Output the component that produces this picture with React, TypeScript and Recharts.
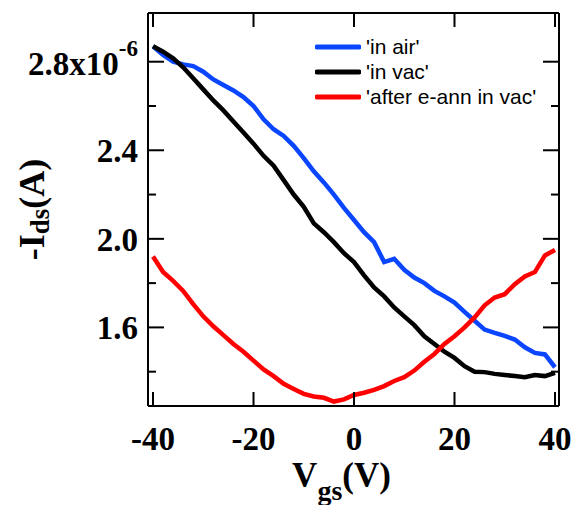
import React from "react";
import { LineChart, Line, XAxis, YAxis, Legend } from "recharts";

const vgs = [
  -40, -38, -36, -34, -32, -30, -28, -26, -24, -22, -20, -18, -16, -14, -12, -10, -8, -6, -4, -2,
  0, 2, 4, 6, 8, 10, 12, 14, 16, 18, 20, 22, 24, 26, 28, 30, 32, 34, 36, 38, 40,
];

// -Ids in units of 1e-6 A
const inAir = [
  2.87, 2.83, 2.8, 2.788, 2.78, 2.755, 2.72, 2.695, 2.67, 2.64, 2.6, 2.54, 2.495, 2.465, 2.42,
  2.365, 2.305, 2.255, 2.2, 2.14, 2.085, 2.03, 1.985, 1.895, 1.91, 1.86, 1.825, 1.8, 1.765, 1.74,
  1.712, 1.67, 1.63, 1.59, 1.575, 1.562, 1.545, 1.51, 1.485, 1.478, 1.42,
];

const inVac = [
  2.87, 2.845, 2.815, 2.775, 2.725, 2.675, 2.625, 2.58, 2.53, 2.48, 2.43, 2.375, 2.33, 2.265, 2.2,
  2.145, 2.07, 2.03, 1.985, 1.935, 1.895, 1.835, 1.78, 1.74, 1.69, 1.65, 1.61, 1.56, 1.525, 1.49,
  1.462, 1.425, 1.4, 1.398, 1.39, 1.385, 1.38, 1.375, 1.385, 1.38, 1.395,
];

const afterAnn = [
  1.92, 1.85, 1.81, 1.765, 1.705, 1.65, 1.605, 1.565, 1.525, 1.49, 1.45, 1.41, 1.38, 1.345, 1.322,
  1.3, 1.288, 1.282, 1.265, 1.275, 1.295, 1.305, 1.318, 1.335, 1.358, 1.375, 1.405, 1.445, 1.48,
  1.525, 1.56, 1.6, 1.645, 1.7, 1.735, 1.75, 1.795, 1.83, 1.85, 1.925, 1.95,
];

const xTicks = [-40, -20, 0, 20, 40];
const yTicks = [1.4, 1.6, 1.8, 2.0, 2.2, 2.4, 2.6, 2.8];

const series = [
  { key: "air", name: "'in air'", color: "#0a46ff" },
  { key: "vac", name: "'in vac'", color: "#000000" },
  { key: "ann", name: "'after e-ann in vac'", color: "#ff0000" },
];

const rows = vgs.map((v, i) => ({ v, air: inAir[i], vac: inVac[i], ann: afterAnn[i] }));

const SERIF = "'Liberation Serif', 'Times New Roman', serif";
const SANS = "'Liberation Sans', Arial, sans-serif";

const isMajor = (v: number) => Math.round(v * 10) % 4 === 0;

function BottomTick({ x, y, payload }: any) {
  return (
    <g>
      <line x1={x} x2={x} y1={y} y2={y - 14} stroke="#000" strokeWidth={2} />
      <text x={x} y={y + 44} textAnchor="middle" fontFamily={SERIF} fontWeight="bold" fontSize={33} fill="#000">
        {payload.value}
      </text>
    </g>
  );
}

function TopTick({ x, y }: any) {
  return <line x1={x} x2={x} y1={y} y2={y + 14} stroke="#000" strokeWidth={2} />;
}

function LeftTick({ x, y, payload }: any) {
  const v = payload.value;
  const major = isMajor(v);
  let label: React.ReactNode = null;
  if (major) {
    if (Math.abs(v - 2.8) < 1e-6) {
      label = (
        <text x={x - 10} y={y + 13} textAnchor="end" fontFamily={SERIF} fontWeight="bold" fontSize={33} fill="#000">
          2.8x10
          <tspan fontSize={23} dy={-19}>
            -6
          </tspan>
        </text>
      );
    } else {
      label = (
        <text x={x - 10} y={y + 12} textAnchor="end" fontFamily={SERIF} fontWeight="bold" fontSize={33} fill="#000">
          {v.toFixed(1)}
        </text>
      );
    }
  }
  return (
    <g>
      <line x1={x} x2={x + (major ? 16 : 8)} y1={y} y2={y} stroke="#000" strokeWidth={2} />
      {label}
    </g>
  );
}

function RightTick({ x, y, payload }: any) {
  const major = isMajor(payload.value);
  return <line x1={x} x2={x - (major ? 16 : 8)} y1={y} y2={y} stroke="#000" strokeWidth={2} />;
}

function XTitle({ viewBox }: any) {
  const cx = viewBox.x + viewBox.width / 2 - 12;
  return (
    <text x={cx} y={viewBox.y + 81} textAnchor="middle" fontFamily={SERIF} fontWeight="bold" fontSize={35} fill="#000">
      V
      <tspan fontSize={28} dy={13}>
        gs
      </tspan>
      <tspan dy={-13}>(V)</tspan>
    </text>
  );
}

function YTitle({ viewBox }: any) {
  const cy = viewBox.y + viewBox.height / 2;
  const cx = 44;
  return (
    <text
      x={cx}
      y={cy}
      transform={`rotate(-90, ${cx}, ${cy})`}
      textAnchor="middle"
      fontFamily={SERIF}
      fontWeight="bold"
      fontSize={36}
      fill="#000"
    >
      -I
      <tspan fontSize={27} dy={5}>
        ds
      </tspan>
      <tspan dy={-5}>(A)</tspan>
    </text>
  );
}

function LegendBox() {
  return (
    <div style={{ fontFamily: SANS, fontSize: 21, color: "#000" }}>
      {series.map((s) => (
        <div key={s.key} style={{ display: "flex", alignItems: "center", height: 25 }}>
          <svg width={46} height={8} style={{ marginRight: 5 }}>
            <line x1={2} x2={44} y1={4} y2={4} stroke={s.color} strokeWidth={5} strokeLinecap="round" />
          </svg>
          <span style={{ whiteSpace: "nowrap" }}>{s.name}</span>
        </div>
      ))}
    </div>
  );
}

export default function App() {
  return (
    <div style={{ position: "absolute", left: 0, top: 0, background: "#fff" }}>
      <LineChart width={574} height={505} data={rows} margin={{ top: 12, right: 14, left: 0, bottom: 0 }}>
        <XAxis
          xAxisId="b"
          dataKey="v"
          type="number"
          domain={[-41, 40.8]}
          allowDataOverflow
          ticks={xTicks}
          interval={0}
          height={99}
          tickSize={0}
          tickMargin={0}
          tickLine={false}
          axisLine={{ stroke: "#000", strokeWidth: 2 }}
          tick={<BottomTick />}
          label={{ content: (p: any) => <XTitle viewBox={p.viewBox} /> }}
        />
        <XAxis
          xAxisId="t"
          dataKey="v"
          type="number"
          orientation="top"
          domain={[-41, 40.8]}
          allowDataOverflow
          ticks={xTicks}
          interval={0}
          height={1}
          tickSize={0}
          tickMargin={0}
          tickLine={false}
          axisLine={{ stroke: "#000", strokeWidth: 2 }}
          tick={<TopTick />}
        />
        <YAxis
          yAxisId="l"
          type="number"
          domain={[1.245, 3.02]}
          allowDataOverflow
          ticks={yTicks}
          interval={0}
          width={148}
          tickSize={0}
          tickMargin={0}
          tickLine={false}
          axisLine={{ stroke: "#000", strokeWidth: 2 }}
          tick={<LeftTick />}
          label={{ content: (p: any) => <YTitle viewBox={p.viewBox} /> }}
        />
        <YAxis
          yAxisId="r"
          type="number"
          orientation="right"
          domain={[1.245, 3.02]}
          allowDataOverflow
          ticks={yTicks}
          interval={0}
          width={1}
          tickSize={0}
          tickMargin={0}
          tickLine={false}
          axisLine={{ stroke: "#000", strokeWidth: 2 }}
          tick={<RightTick />}
        />
        {series.map((s) => (
          <Line
            key={s.key}
            xAxisId="b"
            yAxisId="l"
            dataKey={s.key}
            name={s.name}
            stroke={s.color}
            strokeWidth={4.5}
            dot={false}
            type="linear"
            isAnimationActive={false}
          />
        ))}
        <Legend
          layout="vertical"
          align="center"
          verticalAlign="middle"
          content={() => <LegendBox />}
          wrapperStyle={{ position: "absolute", left: 315, top: 34, width: 250, height: 78 }}
        />
      </LineChart>
    </div>
  );
}
